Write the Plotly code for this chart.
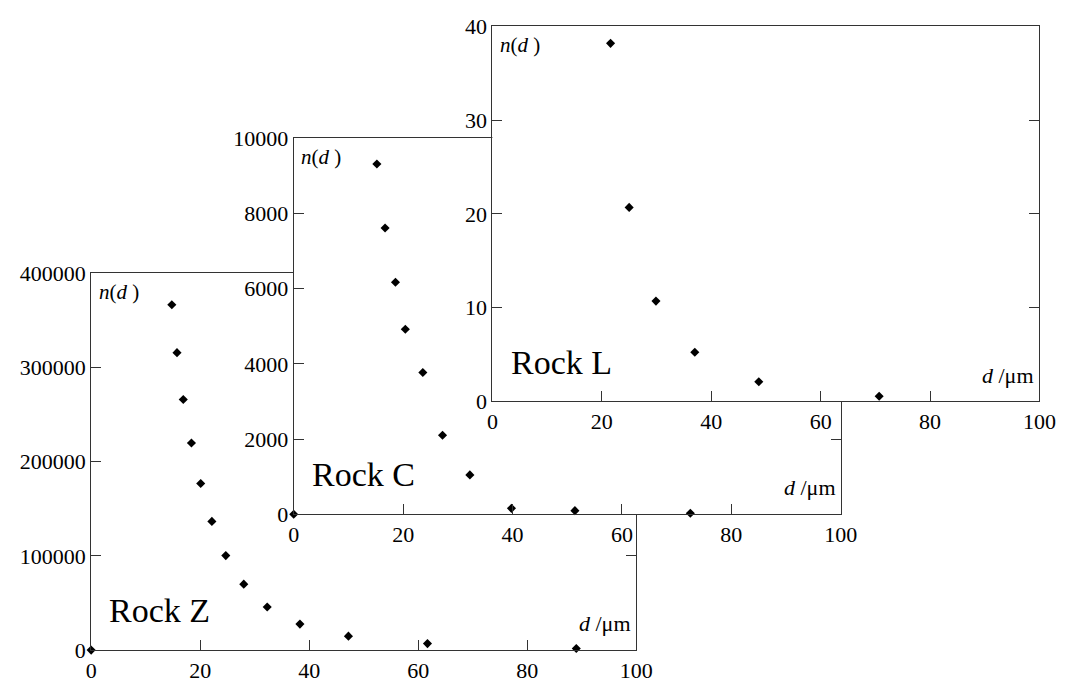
import plotly.graph_objects as go

# Rock Z
z_d = [0, 14.8, 15.75, 16.9, 18.4, 20.1, 22.15, 24.7, 28.0, 32.3, 38.3, 47.2, 61.7, 89.0]
z_n = [0, 366500, 315700, 266000, 219800, 176800, 136600, 100300, 70000, 45800, 27600, 14800, 6900, 1700]
# Rock C
c_d = [0, 15.2, 16.7, 18.6, 20.4, 23.6, 27.2, 32.2, 39.8, 51.4, 72.5]
c_n = [0, 9315, 7615, 6170, 4920, 3770, 2100, 1045, 155, 95, 25]
# Rock L
l_d = [21.6, 25.0, 29.9, 37.0, 48.7, 70.7]
l_n = [38.2, 20.7, 10.7, 5.25, 2.1, 0.55]

rock_names = ["Rock Z", "Rock C", "Rock L"]
y_ticks = [
    [0, 100000, 200000, 300000, 400000],
    [0, 2000, 4000, 6000, 8000, 10000],
    [0, 10, 20, 30, 40],
]
x_ticks = [0, 20, 40, 60, 80, 100]

W, H = 1077, 693
# panel boxes in pixels: left, right, top, bottom
boxes = [(87, 644, 271, 662), (294, 853, 131, 521), (497, 1056, 15, 404)]

FONT = "Liberation Serif, Times New Roman, serif"
fig = go.Figure()
series = [(z_d, z_n), (c_d, c_n), (l_d, l_n)]
for i, ((xs, ys), name) in enumerate(zip(series, rock_names)):
    sfx = "" if i == 0 else str(i + 1)
    fig.add_trace(go.Scatter(x=xs, y=ys, mode="markers", xaxis="x" + sfx, yaxis="y" + sfx,
                             marker=dict(symbol="diamond", size=7, color="black"),
                             cliponaxis=False, showlegend=False, hoverinfo="skip"))
    l, r, t, b = boxes[i]
    common = dict(showgrid=False, zeroline=False, showline=True, linecolor="#333", linewidth=1,
                  ticks="inside", ticklen=10, tickcolor="#333", tickwidth=1,
                  tickfont=dict(family=FONT, size=22, color="black"))
    fig.layout["xaxis" + sfx] = dict(common, domain=[l / W, r / W], range=[0, 100],
                                     tickvals=x_ticks, ticktext=[str(v) for v in x_ticks],
                                     mirror=True, anchor="y" + sfx, fixedrange=True)
    yv = y_ticks[i]
    fig.layout["yaxis" + sfx] = dict(common, domain=[(H - b) / H, (H - t) / H], range=[0, yv[-1]],
                                     tickvals=yv, ticktext=[str(v) for v in yv],
                                     mirror="ticks", anchor="x" + sfx, fixedrange=True)
    xr, yr = "x" + sfx + " domain", "y" + sfx + " domain"
    fig.add_annotation(x=0.01, y=0.95, xref=xr, yref=yr, xanchor="left", yanchor="middle",
                       text="<i>n</i>(<i>d</i> )", showarrow=False,
                       font=dict(family=FONT, size=21, color="black"))
    fig.add_annotation(x=0.03, y=0.105, xref=xr, yref=yr, xanchor="left", yanchor="middle",
                       text=name, showarrow=False, font=dict(family=FONT, size=34, color="black"))
    fig.add_annotation(x=0.994, y=0.07, xref=xr, yref=yr, xanchor="right", yanchor="middle",
                       text="<i>d</i> /μm", showarrow=False,
                       font=dict(family=FONT, size=22, color="black"))

fig.update_layout(width=W, height=H, margin=dict(l=0, r=0, t=0, b=0),
                  paper_bgcolor="white", plot_bgcolor="white", showlegend=False)
fig.write_html("out.html")
